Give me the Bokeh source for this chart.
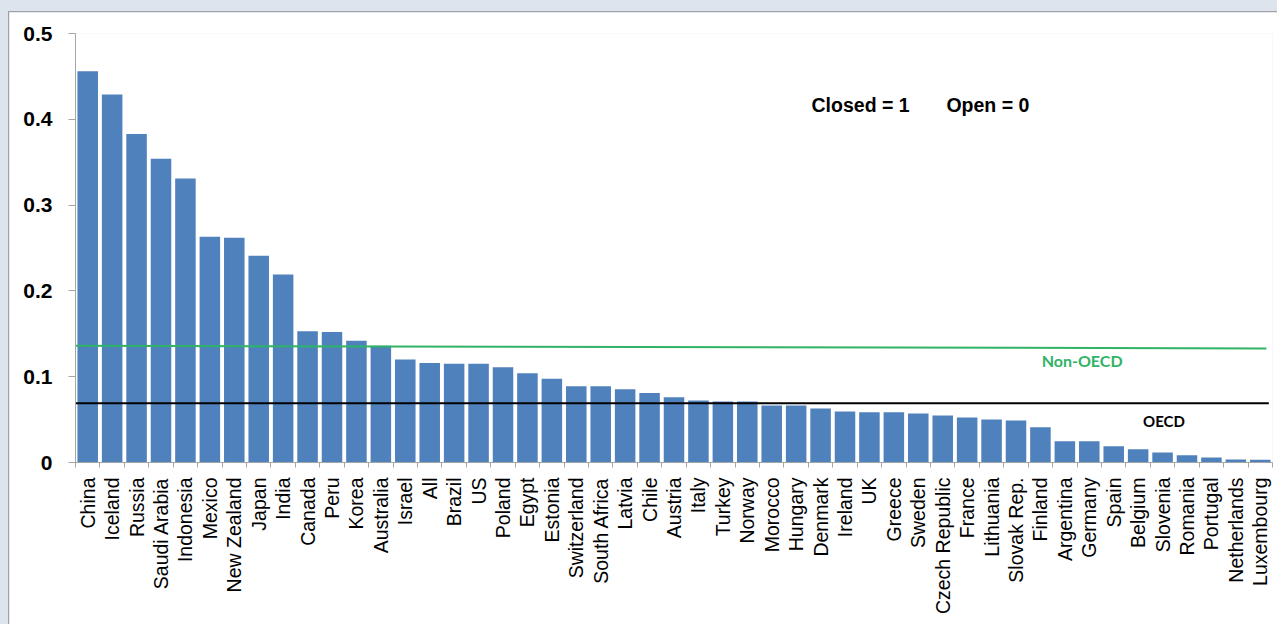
import math
from bokeh.plotting import figure
from bokeh.models import FixedTicker, Label, ColumnDataSource, Range1d
from bokeh.layouts import column
from bokeh.embed import file_html
from bokeh.resources import INLINE

countries = ["China", "Iceland", "Russia", "Saudi Arabia", "Indonesia", "Mexico",
             "New Zealand", "Japan", "India", "Canada", "Peru", "Korea", "Australia",
             "Israel", "All", "Brazil", "US", "Poland", "Egypt", "Estonia",
             "Switzerland", "South Africa", "Latvia", "Chile", "Austria", "Italy",
             "Turkey", "Norway", "Morocco", "Hungary", "Denmark", "Ireland", "UK",
             "Greece", "Sweden", "Czech Republic", "France", "Lithuania", "Slovak Rep.",
             "Finland", "Argentina", "Germany", "Spain", "Belgium", "Slovenia",
             "Romania", "Portugal", "Netherlands", "Luxembourg"]
values = [0.456, 0.429, 0.383, 0.354, 0.331, 0.263, 0.262, 0.241, 0.219, 0.153,
          0.152, 0.142, 0.136, 0.120, 0.116, 0.115, 0.115, 0.111, 0.104, 0.0975,
          0.089, 0.089, 0.0855, 0.081, 0.076, 0.0723, 0.071, 0.071, 0.0664, 0.0664,
          0.063, 0.0594, 0.0587, 0.0587, 0.057, 0.0548, 0.0524, 0.050, 0.049,
          0.041, 0.0249, 0.0249, 0.019, 0.0155, 0.0117, 0.0085, 0.0058, 0.0035,
          0.0031]
nonoecd_avg = [0.136, 0.133]
oecd_avg = [0.069, 0.069]
y_ticks = [0, 0.1, 0.2, 0.3, 0.4, 0.5]

n = len(countries)
idx = list(range(n))
src = ColumnDataSource(dict(x=idx, top=values, name=countries))

p = figure(width=1269, height=613, x_range=Range1d(-0.5, n - 0.5),
           y_range=Range1d(0, 0.5), output_backend="svg", toolbar_location=None,
           min_border_left=66, min_border_right=6, min_border_top=21,
           min_border_bottom=163)
p.background_fill_color = "white"
p.border_fill_color = "white"
p.outline_line_color = None
p.xgrid.grid_line_color = None
p.ygrid.grid_line_color = None

p.vbar(x="x", top="top", width=0.84, source=src, fill_color="#4f81bd",
       line_color=None)

p.line(x=[-0.5, n - 0.75], y=nonoecd_avg, line_color="#2fb366", line_width=2)
p.line(x=[-0.5, n - 0.65], y=oecd_avg, line_color="black", line_width=2)

axis_grey = "#a6a6a6"
xa = p.xaxis[0]
xa.ticker = FixedTicker(ticks=idx, minor_ticks=[i - 0.5 for i in range(n + 1)])
xa.major_label_overrides = {i: c for i, c in zip(idx, countries)}
xa.major_label_orientation = math.pi / 2
xa.major_tick_line_color = None
xa.major_tick_out = 5
xa.major_tick_in = 0
xa.minor_tick_line_color = axis_grey
xa.minor_tick_out = 5
xa.minor_tick_in = 0
xa.axis_line_color = axis_grey
xa.major_label_text_font = "Liberation Sans"
xa.major_label_text_font_size = "19.5px"
xa.major_label_text_color = "black"
xa.major_label_standoff = 10

ya = p.yaxis[0]
ya.ticker = FixedTicker(ticks=y_ticks, minor_ticks=[])
ya.major_label_overrides = {0: "0"}
ya.major_tick_line_color = axis_grey
ya.major_tick_out = 7
ya.major_tick_in = 0
ya.minor_tick_line_color = None
ya.axis_line_color = axis_grey
ya.major_label_text_font = "Liberation Sans"
ya.major_label_text_font_style = "bold"
ya.major_label_text_font_size = "21px"
ya.major_label_text_color = "black"
ya.major_label_standoff = 16

p.add_layout(Label(x=29.63, y=0.417, text="Closed = 1", text_font="Liberation Sans",
                   text_font_style="bold", text_font_size="19.5px",
                   text_baseline="middle", text_color="black"))
p.add_layout(Label(x=35.15, y=0.417, text="Open = 0", text_font="Liberation Sans",
                   text_font_style="bold", text_font_size="19.5px",
                   text_baseline="middle", text_color="black"))
p.add_layout(Label(x=39.05, y=0.119, text="Non-OECD", text_font="Lato",
                   text_font_style="bold", text_font_size="16px",
                   text_baseline="middle", text_color="#2fb366"))
p.add_layout(Label(x=43.2, y=0.048, text="OECD", text_font="Lato",
                   text_font_style="bold", text_font_size="15px",
                   text_baseline="middle", text_color="black"))

p.margin = (11, 0, 0, 8)
p.styles = {"border-left": "1px solid #a0a0a0", "border-top": "1px solid #a0a0a0"}
page = column(p, styles={"background-color": "#dde4ee"})

open("out.html", "w").write(file_html(page, INLINE))
